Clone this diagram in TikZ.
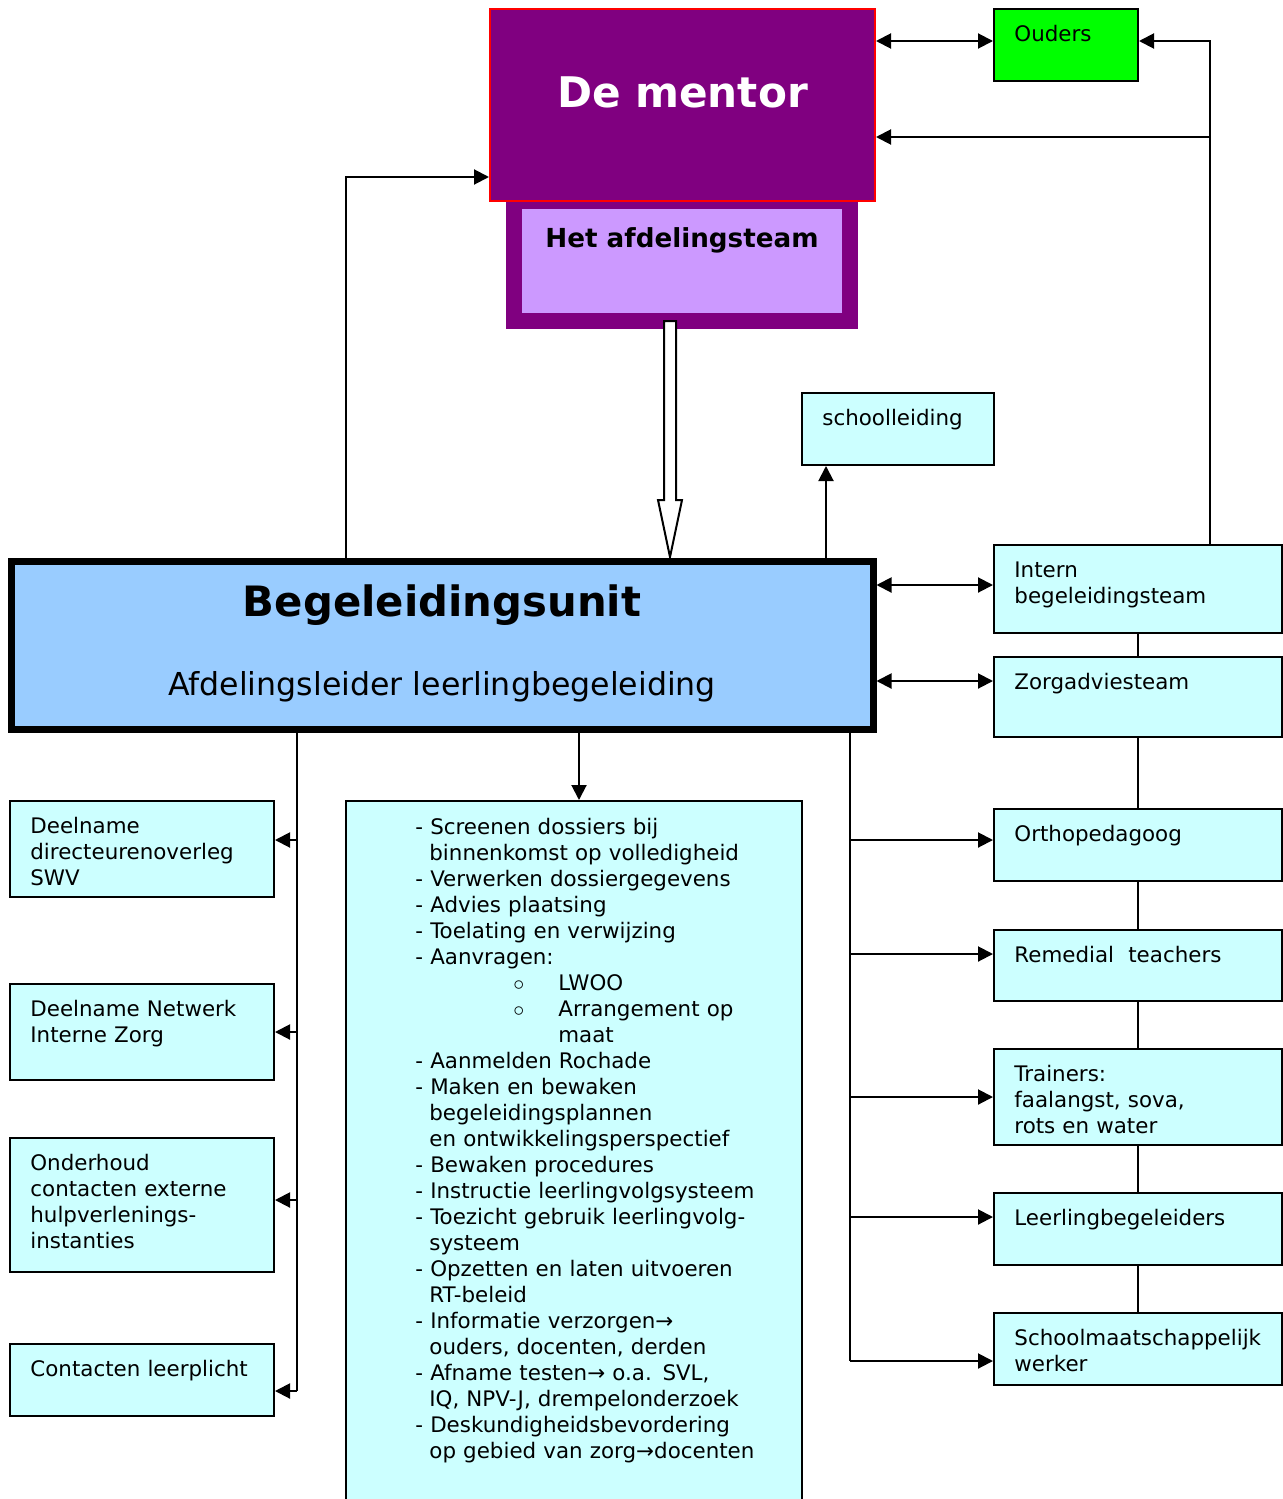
\documentclass[tikz,border=0pt]{standalone}
\usepackage{fontspec}
\setmainfont{DejaVu Sans}
\usetikzlibrary{arrows.meta}
\definecolor{mentorpurple}{HTML}{800080}
\definecolor{lavender}{HTML}{CC99FF}
\definecolor{unitblue}{HTML}{99CCFF}
\definecolor{boxcyan}{HTML}{CCFFFF}
\definecolor{oudersgreen}{HTML}{00FF00}
\newcommand{\subitm}[1]{\makebox[71.5pt][l]{\hspace*{49pt}$\circ$}#1}

\begin{document}
\begin{tikzpicture}[x=0.5pt,y=-0.5pt,>={Triangle[length=7.5pt,width=7.5pt]},
  every node/.style={font=\fontsize{10.7pt}{13pt}\selectfont},
  box/.style={draw,line width=1pt,fill=boxcyan,minimum width=144pt},
  lbox/.style={box,minimum width=132pt},
  txt/.style={anchor=base west,inner sep=0pt,text width=140pt,align=left},
  link/.style={line width=1pt}]
\useasboundingbox (0,0) rectangle (1283,1499);
%------------- top
\node[fill=mentorpurple,minimum width=176pt,minimum height=64pt] (afd) at (682,265) {};
\node[fill=lavender,minimum width=160pt,minimum height=52pt] (afdin) at (682,261) {};
\node[draw=red,line width=1pt,fill=mentorpurple,minimum width=192.5pt,minimum height=96pt] (mentor) at (682.5,105) {};
\node[anchor=base,text=white,font=\bfseries\fontsize{21.1pt}{25pt}\selectfont] (mentorT) at ([yshift=-49.5pt]mentor.north) {De mentor};
\node[anchor=base,font=\bfseries\fontsize{13.1pt}{16pt}\selectfont] (afdT) at ([yshift=-19.5pt]afdin.north) {Het afdelingsteam};
\node[box,fill=oudersgreen,minimum width=72pt,minimum height=36pt] (ouders) at (1066,45) {};
\node[txt] (oudersT) at ([shift={(21,33)}]ouders.north west) {Ouders};
\draw[line width=1pt,fill=white] (664,321) -- (664,500) -- (658,500) -- (670,557) -- (682,500) -- (676,500) -- (676,321) -- cycle;
%------------- unit
\node[draw,line width=3.5pt,fill=unitblue,minimum width=431pt,minimum height=84pt] (unit) at (442,645) {};
\node[anchor=base,font=\bfseries\fontsize{20.9pt}{24pt}\selectfont] (unitT) at ([yshift=-29.5pt]unit.north) {Begeleidingsunit};
\node[anchor=base,font=\fontsize{15.8pt}{18pt}\selectfont] (unitS) at ([yshift=-69pt]unit.north) {Afdelingsleider leerlingbegeleiding};
\node[box,minimum width=96pt,minimum height=36pt] (school) at (898,429) {};
\node[txt] (schoolT) at ([shift={(21,33)}]school.north west) {schoolleiding};
%------------- right column
\node[box,minimum height=44pt] (intern) at (1138,589) {};
\node[txt] (internT) at ([shift={(21,33)}]intern.north west) {Intern\\begeleidingsteam};
\node[box,minimum height=40pt] (zorg) at (1138,697) {};
\node[txt] (zorgT) at ([shift={(21,33)}]zorg.north west) {Zorgadviesteam};
\node[box,minimum height=36pt] (ortho) at (1138,845) {};
\node[txt] (orthoT) at ([shift={(21,33)}]ortho.north west) {Orthopedagoog};
\node[box,minimum height=35.5pt] (remedial) at (1138,965.5) {};
\node[txt] (remedialT) at ([shift={(21,33)}]remedial.north west) {Remedial\ \ teachers};
\node[box,minimum height=48pt] (trainers) at (1138,1097) {};
\node[txt] (trainersT) at ([shift={(21,33)}]trainers.north west) {Trainers:\\faalangst, sova,\\rots en water};
\node[box,minimum height=36pt] (llb) at (1138,1229) {};
\node[txt] (llbT) at ([shift={(21,33)}]llb.north west) {Leerlingbegeleiders};
\node[box,minimum height=36pt] (smw) at (1138,1349) {};
\node[txt] (smwT) at ([shift={(21,33)}]smw.north west) {Schoolmaatschappelijk\\werker};
%------------- left column
\node[lbox,minimum height=48pt] (swv) at (142,849) {};
\node[txt] (swvT) at ([shift={(21,33)}]swv.north west) {Deelname\\directeurenoverleg\\SWV};
\node[lbox,minimum height=48pt] (netwerk) at (142,1032) {};
\node[txt] (netwerkT) at ([shift={(21,33)}]netwerk.north west) {Deelname Netwerk\\Interne Zorg};
\node[lbox,minimum height=67pt] (onderhoud) at (142,1205) {};
\node[txt] (onderhoudT) at ([shift={(21,33)}]onderhoud.north west) {Onderhoud\\contacten externe\\hulpverlenings-\\instanties};
\node[lbox,minimum height=36pt] (leerplicht) at (142,1380) {};
\node[txt] (leerplichtT) at ([shift={(21,33)}]leerplicht.north west) {Contacten leerplicht};
%------------- tasks
\node[box,minimum width=228pt,minimum height=354.5pt] (taken) at (574,1155.5) {};
\node[txt,text width=200pt] (takenT) at ([shift={(70,34)}]taken.north west) {- Screenen dossiers bij\\
\hspace*{7pt}binnenkomst op volledigheid\\
- Verwerken dossiergegevens\\
- Advies plaatsing\\
- Toelating en verwijzing\\
- Aanvragen:\\
\subitm{LWOO}\\
\subitm{Arrangement op}\\
\hspace*{71.5pt}maat\\
- Aanmelden Rochade\\
- Maken en bewaken\\
\hspace*{7pt}begeleidingsplannen\\
\hspace*{7pt}en ontwikkelingsperspectief\\
- Bewaken procedures\\
- Instructie leerlingvolgsysteem\\
- Toezicht gebruik leerlingvolg-\\
\hspace*{7pt}systeem\\
- Opzetten en laten uitvoeren\\
\hspace*{7pt}RT-beleid\\
- Informatie verzorgen→\\
\hspace*{7pt}ouders, docenten, derden\\
- Afname testen→ o.a. SVL,\\
\hspace*{7pt}IQ, NPV-J, drempelonderzoek\\
- Deskundigheidsbevordering\\
\hspace*{7pt}op gebied van zorg→docenten};
%------------- connectors
\draw[link,<->] ([yshift=2pt]mentor.east |- ouders.west) -- ([yshift=2pt]ouders.west);
\coordinate (ibt) at ([xshift=36pt]intern.north);
\draw[link,->] (ibt) |- ([yshift=2pt]ouders.east);
\draw[link,->] ([yshift=-16pt]mentor.east -| ibt) -- ([yshift=-16pt]mentor.east);
\draw[link,->] ([xshift=-48pt]unit.north) |- ([yshift=-36pt]mentor.west);
\draw[link,->] ([xshift=-36pt]school.south |- unit.north) -- ([xshift=-36pt]school.south);
\draw[link,<->] ([yshift=2pt]intern.west -| unit.east) -- ([yshift=2pt]intern.west);
\draw[link,<->] ([yshift=8pt]zorg.west -| unit.east) -- ([yshift=8pt]zorg.west);
\draw[link,->] ([xshift=2.5pt]taken.north |- unit.south) -- ([xshift=2.5pt]taken.north);
\coordinate (rv) at ([xshift=204pt]unit.south);
\draw[link] (rv) -- ([yshift=-6pt]smw.west -| rv);
\foreach \n/\dy in {ortho/2.5,remedial/5.75,trainers/0,llb/6,smw/-6}
  \draw[link,->] ([yshift=\dy pt]\n.west -| rv) -- ([yshift=\dy pt]\n.west);
\coordinate (lv) at ([xshift=-72.5pt]unit.south);
\draw[link] (lv) -- ([yshift=-5.5pt]leerplicht.east -| lv);
\foreach \n/\dy in {swv/4.5,netwerk/0,onderhoud/2.5,leerplicht/-5.5}
  \draw[link,->] ([yshift=\dy pt]\n.east -| lv) -- ([yshift=\dy pt]\n.east);
\foreach \from/\to in {intern/zorg,zorg/ortho,ortho/remedial,remedial/trainers,trainers/llb,llb/smw}
  \draw[line width=0.8pt] (\from.south) -- (\to.north);
\end{tikzpicture}
\end{document}
